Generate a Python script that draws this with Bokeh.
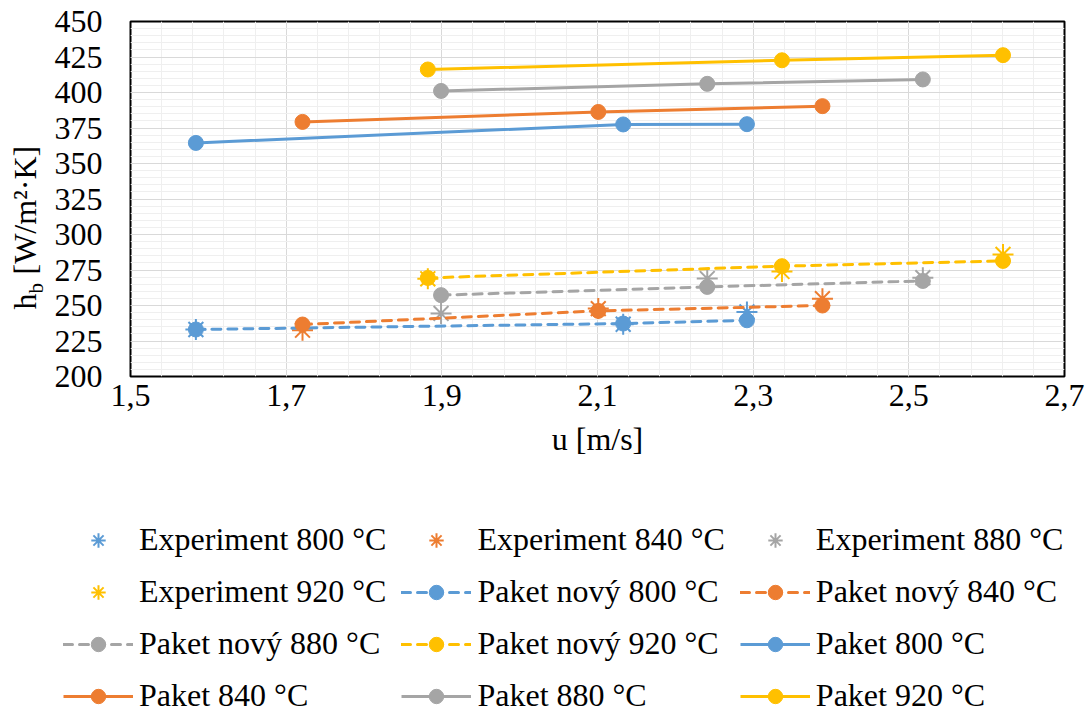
from bokeh.plotting import figure
from bokeh.models import Range1d, FixedTicker, Legend, LegendItem
from bokeh.layouts import row, column
from bokeh.core.properties import value
from bokeh.embed import file_html
from bokeh.resources import INLINE
import math

FONT = "Liberation Serif"

# ---- data ----
u_800 = [1.584, 2.133, 2.292]
u_840 = [1.721, 2.101, 2.389]
u_880 = [1.899, 2.241, 2.518]
u_920 = [1.882, 2.337, 2.621]

exp_800 = [233.1, 236.8, 245.5]
exp_840 = [232.6, 247.8, 254.8]
exp_880 = [244.4, 269.0, 269.6]
exp_920 = [268.8, 274.0, 286.0]

novy_800 = [233.1, 237.3, 239.6]
novy_840 = [236.6, 246.2, 250.0]
novy_880 = [257.3, 263.1, 267.3]
novy_920 = [269.4, 277.7, 281.4]

paket_800 = [364.5, 377.5, 377.7]
paket_840 = [379.3, 386.3, 390.4]
paket_880 = [401.1, 406.1, 409.2]
paket_920 = [416.2, 422.7, 426.3]

temps = ["800", "840", "880", "920"]
x_ticks = [1.5, 1.7, 1.9, 2.1, 2.3, 2.5, 2.7]
x_tick_labels = ["1,5", "1,7", "1,9", "2,1", "2,3", "2,5", "2,7"]
y_ticks = [200, 225, 250, 275, 300, 325, 350, 375, 400, 425, 450]
y_tick_labels = ["200", "225", "250", "275", "300", "325", "350", "375", "400", "425", "450"]

colors = ["#5B9BD5", "#ED7D31", "#A5A5A5", "#FFC000"]

us = [u_800, u_840, u_880, u_920]
exps = [exp_800, exp_840, exp_880, exp_920]
novys = [novy_800, novy_840, novy_880, novy_920]
pakets = [paket_800, paket_840, paket_880, paket_920]

# ---- layout constants (pixels) ----
YLAB_W = 50          # strip holding the rotated y-axis title
TOP, FW, FH, BOT = 21, 934, 355, 100
MAIN_H = TOP + FH + BOT
LEG_H = 718 - MAIN_H

# ---------------- main chart ----------------
p = figure(frame_width=FW, frame_height=FH,
           min_border_left=130 - YLAB_W, min_border_right=27, min_border_top=TOP,
           min_border_bottom=BOT,
           x_range=Range1d(1.5, 2.7), y_range=Range1d(200, 450),
           output_backend="svg", toolbar_location=None)

x_minor = [round(1.5 + 0.04 * i, 4) for i in range(31)]
y_minor = list(range(200, 451, 5))
p.xaxis.ticker = FixedTicker(ticks=x_ticks, minor_ticks=x_minor)
p.yaxis.ticker = FixedTicker(ticks=y_ticks, minor_ticks=y_minor)
p.xaxis.major_label_overrides = dict(zip(x_ticks, x_tick_labels))
p.yaxis.major_label_overrides = dict(zip(y_ticks, y_tick_labels))

for ax in (p.xaxis, p.yaxis):
    ax.major_label_text_font = FONT
    ax.major_label_text_font_size = "32px"
    ax.major_label_text_color = "black"
    ax.major_tick_line_color = None
    ax.minor_tick_line_color = None
    ax.axis_line_color = None
    ax.axis_label_text_font = FONT
    ax.axis_label_text_font_size = "32px"
    ax.axis_label_text_font_style = "normal"
    ax.axis_label_text_color = "black"
p.yaxis.major_label_standoff = 22
p.xaxis.major_label_standoff = 2
p.xaxis.axis_label = "u [m/s]"
p.xaxis.axis_label_standoff = 12

for g in (p.xgrid, p.ygrid):
    g.grid_line_color = "#D9D9D9"
    g.grid_line_width = 1
    g.minor_grid_line_color = "#EFEFEF"
    g.minor_grid_line_width = 1

p.outline_line_color = "black"
p.outline_line_width = 2
p.background_fill_color = "white"
p.border_fill_color = "white"

for u, e, c in zip(us, exps, colors):
    p.scatter(u, e, marker="asterisk", size=21, line_color=c, line_width=2)
for u, n, c in zip(us, novys, colors):
    p.line(u, n, line_color=c, line_width=3, line_dash="9 7", line_cap="round")
    p.scatter(u, n, marker="circle", size=15, fill_color=c, line_color=c)
for u, k, c in zip(us, pakets, colors):
    p.line(u, k, line_color=c, line_width=3)
    p.scatter(u, k, marker="circle", size=15, fill_color=c, line_color=c)

# ---------------- y-axis title strip ----------------
yl = figure(frame_width=YLAB_W, frame_height=MAIN_H,
            x_range=Range1d(0, YLAB_W), y_range=Range1d(0, MAIN_H),
            min_border=0, min_border_left=0, min_border_right=0,
            min_border_top=0, min_border_bottom=0,
            x_axis_type=None, y_axis_type=None,
            output_backend="svg", toolbar_location=None)
yl.grid.visible = False
yl.outline_line_color = None
yl.border_fill_color = "white"
yl.background_fill_color = "white"
yl.title.visible = False
H_MID_X = 24            # centre line of the rotated 32px text
H_START = MAIN_H - 312 + 24  # where "h" starts (strip units)
yl.text(x=[H_MID_X], y=[H_START], text=["h"], angle=math.pi / 2,
        text_font=value(FONT), text_font_size="32px", text_align="left",
        text_baseline="middle", text_color="black")
yl.text(x=[H_MID_X + 11], y=[H_START + 16], text=["b"], angle=math.pi / 2,
        text_font=value(FONT), text_font_size="21px", text_align="left",
        text_baseline="middle", text_color="black")
yl.text(x=[H_MID_X], y=[H_START + 35], text=["[W/m²·K]"], angle=math.pi / 2,
        text_font=value(FONT), text_font_size="32px", text_align="left",
        text_baseline="middle", text_color="black")

# ---------------- legend strip ----------------
lg = figure(width=1091, height=LEG_H, x_range=Range1d(0, 1), y_range=Range1d(0, 1),
            min_border=0, x_axis_type=None, y_axis_type=None,
            output_backend="svg", toolbar_location=None)
lg.grid.visible = False
lg.outline_line_color = None
lg.border_fill_color = "white"
lg.background_fill_color = "white"

# legend proxies: the same series, outside this strip's visible range
items = []
for t, u, e, c in zip(temps, us, exps, colors):
    r = lg.scatter(u, e, marker="asterisk", size=21, line_color=c, line_width=2)
    items.append(LegendItem(label=f"Experiment {t} °C", renderers=[r]))
for t, u, n, c in zip(temps, us, novys, colors):
    l = lg.line(u, n, line_color=c, line_width=3, line_dash="9 7", line_cap="round")
    s = lg.scatter(u, n, marker="circle", size=15, fill_color=c, line_color=c)
    items.append(LegendItem(label=f"Paket nový {t} °C", renderers=[l, s]))
for t, u, k, c in zip(temps, us, pakets, colors):
    l = lg.line(u, k, line_color=c, line_width=3)
    s = lg.scatter(u, k, marker="circle", size=15, fill_color=c, line_color=c)
    items.append(LegendItem(label=f"Paket {t} °C", renderers=[l, s]))

legend = Legend(items=items, orientation="horizontal", ncols=3,
                label_text_font=FONT, label_text_font_size="32px", label_text_color="black",
                glyph_width=70, glyph_height=36, label_standoff=6, spacing=15,
                padding=0, margin=0, border_line_color=None, background_fill_alpha=0,
                location=(63, 4))
lg.add_layout(legend, "center")

layout = column(row(yl, p), lg)
open("out.html", "w").write(file_html(layout, INLINE))
